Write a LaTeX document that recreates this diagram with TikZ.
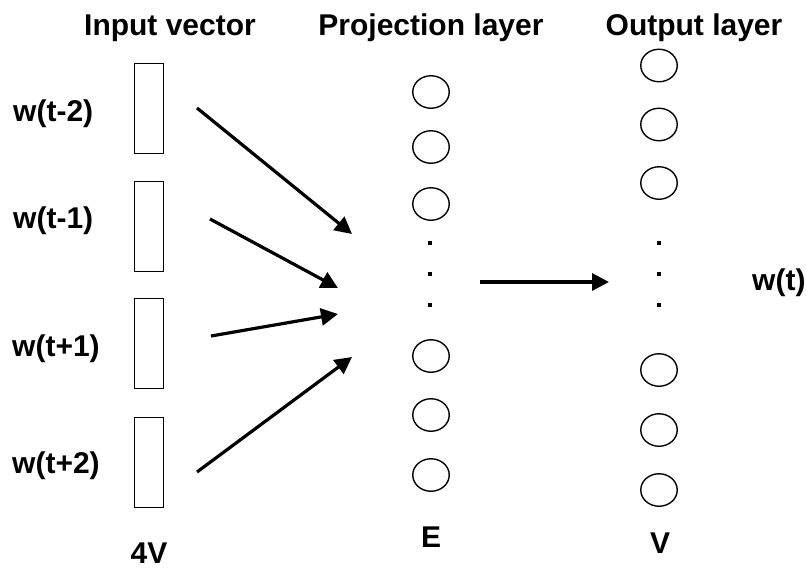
\documentclass[tikz,border=0pt]{standalone}
\usepackage{fontspec}
\setmainfont{Liberation Sans}
\usetikzlibrary{arrows.meta,shapes.geometric}

\begin{document}
\begin{tikzpicture}[x=1pt,y=-1pt,
  lbl/.style={font=\fontsize{30}{32}\selectfont\bfseries,inner sep=0pt},
  vec/.style={draw,rectangle,line width=1.4pt,minimum width=28.5pt,minimum height=89.5pt,inner sep=0pt},
  unit/.style={draw,ellipse,line width=1.4pt,minimum width=36.5pt,minimum height=32.5pt,inner sep=0pt},
  dot/.style={fill,rectangle,minimum size=4.5pt,inner sep=0pt},
  link/.style={line width=3.2pt,-{Triangle[length=17pt,width=17pt]}}]
\useasboundingbox (0,0) rectangle (806,570);

% titles
\node[lbl,anchor=base] (tin) at (170,35) {Input vector};
\node[lbl,anchor=base] (tproj) at (431,35) {Projection layer};
\node[lbl,anchor=base] (tout) at (694,35) {Output layer};

% input words
\node[vec] (x1) at (149,108.5) {};
\node[vec] (x2) at (149,226.5) {};
\node[vec] (x3) at (149,343.5) {};
\node[vec] (x4) at (149,462.5) {};
\node[lbl,anchor=base west] (w1) at (13,121) {w(t-2)};
\node[lbl,anchor=base west] (w2) at (13,228) {w(t-1)};
\node[lbl,anchor=base west] (w3) at (12,356) {w(t+1)};
\node[lbl,anchor=base west] (w4) at (12,473) {w(t+2)};
\node[lbl,anchor=base] (n4v) at (149,563) {4V};

% projection layer
\foreach \i/\y in {1/92,2/147,3/204,4/356,5/415,6/475}
  \node[unit] (p\i) at (431,\y) {};
\foreach \i/\y in {1/243,2/274,3/305}
  \node[dot] (pd\i) at (430,\y) {};
\node[lbl,anchor=base] (ne) at (431,547) {E};

% output layer
\foreach \i/\y in {1/65.5,2/124.5,3/183,4/370,5/430,6/490}
  \node[unit] (o\i) at (659,\y) {};
\foreach \i/\y in {1/243,2/274,3/305}
  \node[dot] (od\i) at (659,\y) {};
\node[lbl,anchor=base] (nv) at (660,553) {V};
\node[lbl,anchor=base west] (wt) at (752,290) {w(t)};

% arrows
\coordinate (s1) at (197,108); \coordinate (e1) at (352,234);
\coordinate (s2) at (210,219); \coordinate (e2) at (338,288);
\coordinate (s3) at (211,336); \coordinate (e3) at (338,314);
\coordinate (s4) at (197,472); \coordinate (e4) at (352,357);
\coordinate (s5) at (480,282); \coordinate (e5) at (609,282);
\foreach \k in {1,...,5}
  \draw[link] (s\k) -- (e\k);
\end{tikzpicture}
\end{document}
